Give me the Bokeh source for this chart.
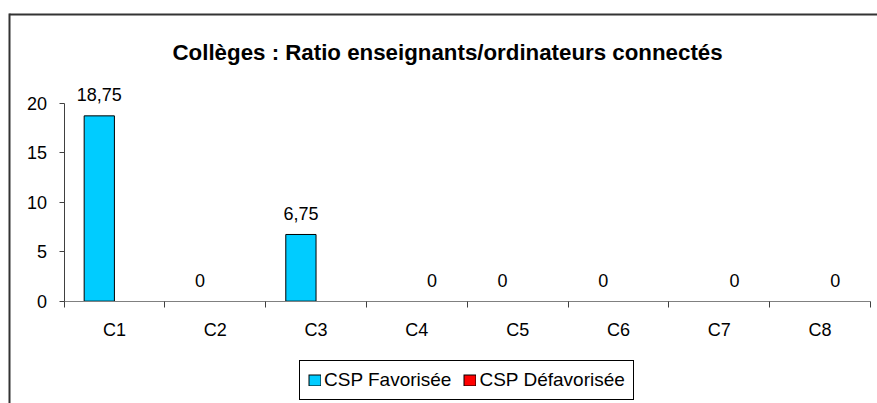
import math
from bokeh.plotting import figure
from bokeh.models import (ColumnDataSource, Range1d, LinearAxis, FixedTicker, LabelSet, Label,
                          Legend, LegendItem, BoxAnnotation)
from bokeh.core.properties import value
from bokeh.embed import file_html
from bokeh.resources import INLINE

categories = ["C1", "C2", "C3", "C4", "C5", "C6", "C7", "C8"]
fav = [18.75, 0, 6.75, None, 0, 0, None, None]
defav = [None, None, None, 0, None, None, 0, 0]
series_names = ["CSP Favorisée", "CSP Défavorisée"]
series_colors = ["#00CCFF", "#FF0000"]
y_ticks = [0, 5, 10, 15, 20]
title_text = "Collèges : Ratio enseignants/ordinateurs connectés"

FONT = "Liberation Sans"
W, H = 877, 403
# pixel layout of the plotting area inside the canvas
AX_LEFT, AX_RIGHT = 63.5, 870.0
Y0_PX, YTOP_PX = 300.7, 103.0
y_max = 20
n = len(categories)
px_x = (AX_RIGHT - AX_LEFT) / n
px_y = (Y0_PX - YTOP_PX) / y_max

x_range = Range1d(-AX_LEFT / px_x, (W - AX_LEFT) / px_x)
y_range = Range1d(-(H - Y0_PX) / px_y, y_max + YTOP_PX / px_y)

p = figure(width=W, height=H, output_backend="svg", toolbar_location=None,
           x_range=x_range, y_range=y_range,
           x_axis_type=None, y_axis_type=None,
           min_border_left=0, min_border_right=0, min_border_top=0, min_border_bottom=0)
p.outline_line_color = None
p.background_fill_color = "white"
p.border_fill_color = "white"

offsets = [-0.15, 0.15]
legend_items = []
label_x, label_y, label_t = [], [], []
for name, vals, color, off in zip(series_names, [fav, defav], series_colors, offsets):
    xs, tops = [], []
    for i, v in enumerate(vals):
        if v is None:
            continue
        label_x.append(i + 0.5 + off)
        label_y.append(v)
        label_t.append(f"{v:g}".replace(".", ","))
        if v > 0:
            xs.append(i + 0.5 + off)
            tops.append(v)
    src = ColumnDataSource(dict(x=xs, top=tops))
    p.vbar(x="x", top="top", bottom=0, width=0.3, source=src,
           fill_color=color, line_color="black", line_width=1)
    # legend swatch: a black band with a coloured band inside (no visible point on the plot)
    sw_border = p.line(x=[math.nan, math.nan], y=[math.nan, math.nan],
                       line_color="black", line_width=12, line_cap="butt")
    sw_fill = p.line(x=[math.nan, math.nan], y=[math.nan, math.nan],
                     line_color=color, line_width=10, line_cap="butt", line_dash="0 1 11 100")
    legend_items.append(LegendItem(label=name, renderers=[sw_border, sw_fill]))

labels = LabelSet(x="x", y="y", text="t",
                  source=ColumnDataSource(dict(x=label_x, y=label_y, t=label_t)),
                  text_align="center", text_baseline="alphabetic", y_offset=14.5,
                  text_font=value(FONT), text_font_size=value("18px"), text_color="black")
p.add_layout(labels)

yaxis = LinearAxis(ticker=FixedTicker(ticks=y_ticks, minor_ticks=[]),
                   fixed_location=0, bounds=(0, y_max),
                   axis_line_color="#404040", major_tick_line_color="#404040",
                   major_tick_out=5, major_tick_in=0, minor_tick_out=0, minor_tick_in=0,
                   major_label_standoff=12,
                   major_label_text_font=FONT, major_label_text_font_size="18px",
                   major_label_text_color="black")
p.add_layout(yaxis, "left")

xaxis = LinearAxis(ticker=FixedTicker(ticks=[i + 0.5 for i in range(n)],
                                      minor_ticks=list(range(n + 1))),
                   fixed_location=0, bounds=(0, n),
                   major_label_overrides={i + 0.5: c for i, c in enumerate(categories)},
                   axis_line_color="#808080", major_tick_line_color=None,
                   minor_tick_line_color="#404040",
                   major_tick_out=0, major_tick_in=0, minor_tick_out=6, minor_tick_in=0,
                   major_label_standoff=13,
                   major_label_text_font=FONT, major_label_text_font_size="18px",
                   major_label_text_color="black")
p.add_layout(xaxis, "below")

title = Label(x=172, y=H - 52, x_units="screen", y_units="screen", text=title_text,
              text_align="left", text_baseline="alphabetic",
              text_font=FONT, text_font_style="bold", text_font_size="22.3px", text_color="black")
p.add_layout(title)

legend = Legend(items=legend_items,
                orientation="horizontal", location=(299, H - 400),
                border_line_color="black", border_line_width=1, border_line_alpha=1,
                background_fill_color="white", background_fill_alpha=1,
                padding=8, margin=0, spacing=12, label_standoff=3,
                glyph_width=13, glyph_height=12, label_height=20,
                label_text_font=FONT, label_text_font_size="19px", label_text_color="black")
p.add_layout(legend)

# chart-area border (only its top and left edges are inside the picture)
for l, r, t, b in [(9, W, 13, 15), (8, 10, 13, H)]:
    p.add_layout(BoxAnnotation(left=l, right=r, top=t, bottom=b,
                               left_units="canvas", right_units="canvas",
                               top_units="canvas", bottom_units="canvas",
                               fill_color="#333333", fill_alpha=1, line_color=None))

open("out.html", "w").write(file_html(p, INLINE))
